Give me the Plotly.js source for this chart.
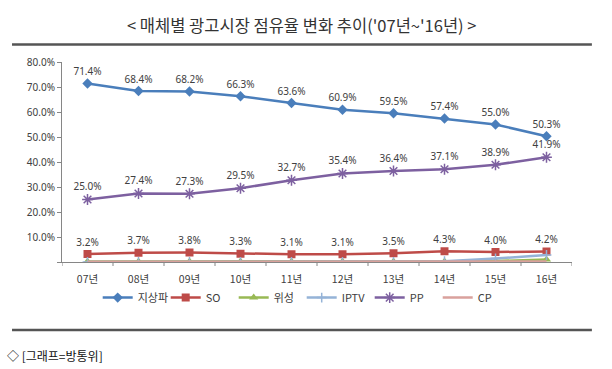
<!DOCTYPE html>
<html><head><meta charset="utf-8">
<script src="https://cdn.plot.ly/plotly-3.0.1.min.js"></script>
<style>body{margin:0;background:#fff}#c{width:612px;height:369px}</style>
</head><body><div id="c"></div>
<script>
const years = ['07년','08년','09년','10년','11년','12년','13년','14년','15년','16년'];
const terrestrial = [71.4,68.4,68.2,66.3,63.6,60.9,59.5,57.4,55.0,50.3];
const so = [3.2,3.7,3.8,3.3,3.1,3.1,3.5,4.3,4.0,4.2];
const satellite = [0.2,0.2,0.2,0.2,0.2,0.2,0.2,0.2,0.4,1.0];
const iptv = [0,0,0,0,0,0,0,0.3,1.4,2.8];
const pp = [25.0,27.4,27.3,29.5,32.7,35.4,36.4,37.1,38.9,41.9];
const cp = [0.1,0.1,0.1,0.1,0.1,0.1,0.1,0.1,0.1,0.2];
const yTicks = [0,10,20,30,40,50,60,70,80];
const yTickText = ['','10.0%','20.0%','30.0%','40.0%','50.0%','60.0%','70.0%','80.0%'];

const lbl = arr => arr.map(v => v.toFixed(1) + '%');
const labelFont = {family:'Noto Sans, sans-serif', size:10, color:'#404040'};

const traces = [
  {name:'지상파', x:years, y:terrestrial, mode:'lines+markers+text', text:lbl(terrestrial), textposition:'top center', textfont:labelFont,
   line:{color:'#4A7EBB', width:2.5}, marker:{symbol:'diamond', size:8, color:'#4A7EBB'}},
  {name:'SO', x:years, y:so, mode:'lines+markers+text', text:lbl(so), textposition:'top center', textfont:labelFont,
   line:{color:'#BE4B48', width:2.5}, marker:{symbol:'square', size:8, color:'#BE4B48'}},
  {name:'위성', x:years, y:satellite, mode:'lines+markers',
   line:{color:'#98B954', width:2.5}, marker:{symbol:'triangle-up', size:8, color:'#98B954'}},
  {name:'IPTV', x:years, y:iptv, mode:'lines+markers',
   line:{color:'#95B3D7', width:2.5}, marker:{symbol:'cross-thin-open', size:7, color:'#95B3D7', line:{width:1.5,color:'#95B3D7'}}},
  {name:'PP', x:years, y:pp, mode:'lines+markers+text', text:lbl(pp), textposition:'top center', textfont:labelFont,
   line:{color:'#7D60A0', width:2.5}, marker:{symbol:'asterisk-open', size:9, color:'#7D60A0', line:{width:1.5,color:'#7D60A0'}}},
  {name:'CP', x:years, y:cp, mode:'lines',
   line:{color:'#D9A19C', width:2.5}}
];

const layout = {
  width:612, height:369,
  margin:{l:62, r:40, t:62, b:107},
  paper_bgcolor:'#fff', plot_bgcolor:'#fff',
  showlegend:true,
  legend:{orientation:'h', x:0.47, xanchor:'center', y:-0.178, yanchor:'middle', bgcolor:'rgba(0,0,0,0)',
    font:{family:'Noto Sans CJK KR, sans-serif', size:11, color:'#404040'}, itemwidth:30,
    entrywidth:23, entrywidthmode:'pixels', tracegroupgap:0},
  xaxis:{type:'category', range:[-0.5,9.5], showgrid:false, zeroline:false,
    showline:true, linecolor:'#868686', linewidth:1, ticks:'outside', ticklen:7, tickcolor:'rgba(0,0,0,0)',
    tickfont:{family:'Noto Sans CJK KR, sans-serif', size:10.5, color:'#404040'}},
  yaxis:{range:[0,80], tickvals:yTicks, ticktext:yTickText, showgrid:false, zeroline:false,
    showline:true, linecolor:'#868686', linewidth:1, ticks:'outside', ticklen:4, tickcolor:'#868686',
    tickfont:{family:'Noto Sans, sans-serif', size:10, color:'#404040'}},
  annotations:[
    {text:'&lt; 매체별 광고시장 점유율 변화 추이(\'07년~\'16년) &gt;', xref:'paper', yref:'paper', x:0.47, y:1.185, xanchor:'center', yanchor:'middle', showarrow:false,
     font:{family:'Noto Sans CJK KR, sans-serif', size:16.5, color:'#333'}},
    {text:'◇ [그래프=방통위]', xref:'paper', yref:'paper', x:-0.112, y:-0.465, xanchor:'left', yanchor:'middle', showarrow:false,
     font:{family:'Noto Sans CJK KR, sans-serif', size:12, color:'#111'}}
  ],
  shapes:[
    {type:'line', xref:'paper', yref:'paper', x0:-0.098, x1:1.039, y0:1.088, y1:1.088, line:{color:'#555', width:2.5}, layer:'above'},
    {type:'line', xref:'paper', yref:'paper', x0:-0.098, x1:1.039, y0:-0.34, y1:-0.34, line:{color:'#555', width:2.5}, layer:'above'}
  ]
};
for (let i=0;i<=10;i++){
  layout.shapes.push({type:'line', xref:'x', yref:'paper', x0:i-0.5, x1:i-0.5, y0:0, y1:-0.02, line:{color:'#868686', width:1}});
}
Plotly.newPlot('c', traces, layout, {staticPlot:true});
</script></body></html>
